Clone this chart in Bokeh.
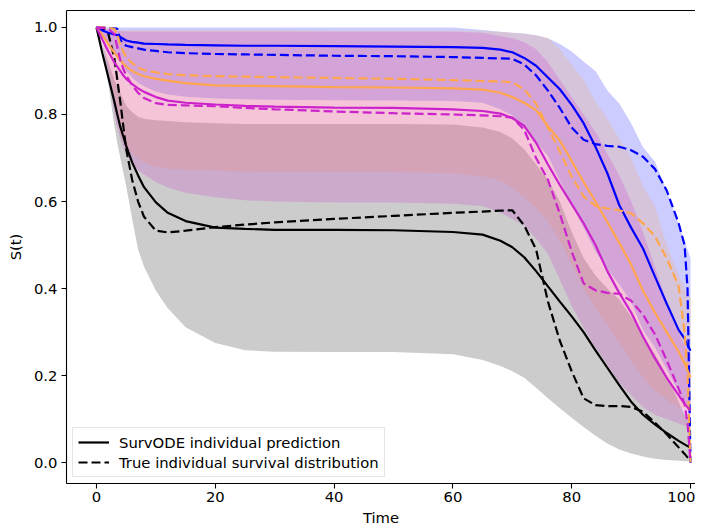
from bokeh.plotting import figure
from bokeh.models import Range1d, FixedTicker, Legend, LegendItem, LinearAxis, NumeralTickFormatter
from bokeh.embed import file_html
from bokeh.resources import INLINE

# ---------------- data ----------------
t = [0, 1, 2, 3, 3.5, 4, 4.5, 5, 6, 7, 8, 10, 12, 15, 20, 25, 30, 40, 50, 60,
     65, 68, 70, 72, 74, 76, 78, 80, 82, 84, 86, 88, 90, 92, 94, 96, 98, 99, 99.5, 100]

# black patient
pred_black = [1.0, 0.94, 0.885, 0.83, 0.80, 0.772, 0.75, 0.728, 0.69, 0.66, 0.633, 0.598, 0.574, 0.555, 0.54, 0.537, 0.535, 0.535, 0.534, 0.53,
              0.524, 0.51, 0.495, 0.472, 0.44, 0.405, 0.37, 0.336, 0.3, 0.258, 0.218, 0.178, 0.14, 0.11, 0.088, 0.068, 0.05, 0.042, 0.038, 0.035]
true_black = [1.0, 0.998, 0.985, 0.93, 0.88, 0.83, 0.775, 0.72, 0.65, 0.60, 0.565, 0.533, 0.529, 0.533, 0.541, 0.547, 0.552, 0.56, 0.567, 0.574,
              0.577, 0.579, 0.58, 0.545, 0.49, 0.37, 0.28, 0.21, 0.148, 0.132, 0.13, 0.13, 0.128, 0.117, 0.092, 0.065, 0.035, 0.02, 0.012, 0.005]
lo_black = [1.0, 0.955, 0.87, 0.775, 0.735, 0.70, 0.668, 0.635, 0.56, 0.49, 0.45, 0.395, 0.355, 0.311, 0.275, 0.258, 0.255, 0.254, 0.254, 0.249,
            0.236, 0.222, 0.21, 0.195, 0.172, 0.148, 0.125, 0.103, 0.082, 0.062, 0.044, 0.03, 0.021, 0.014, 0.009, 0.006, 0.004, 0.003, 0.003, 0.003]
hi_black = [1.0, 0.96, 0.92, 0.88, 0.865, 0.85, 0.835, 0.82, 0.805, 0.795, 0.79, 0.787, 0.785, 0.782, 0.78, 0.778, 0.778, 0.778, 0.778, 0.777,
            0.77, 0.76, 0.745, 0.72, 0.685, 0.65, 0.6, 0.53, 0.47, 0.43, 0.40, 0.375, 0.335, 0.29, 0.25, 0.2, 0.14, 0.11, 0.1, 0.1]

# blue patient
pred_blue = [1.0, 0.993, 0.988, 0.984, 0.982, 0.978, 0.974, 0.97, 0.967, 0.965, 0.963, 0.962, 0.961, 0.96, 0.959, 0.958, 0.958, 0.957, 0.956, 0.955,
             0.953, 0.949, 0.943, 0.93, 0.912, 0.885, 0.858, 0.822, 0.78, 0.726, 0.665, 0.592, 0.54, 0.492, 0.428, 0.365, 0.305, 0.285, 0.27, 0.257]
true_blue = [1.0, 1.0, 0.999, 0.998, 0.997, 0.972, 0.963, 0.958, 0.955, 0.952, 0.949, 0.946, 0.943, 0.941, 0.939, 0.938, 0.937, 0.935, 0.934, 0.932,
             0.93, 0.929, 0.928, 0.915, 0.89, 0.855, 0.815, 0.77, 0.742, 0.732, 0.728, 0.726, 0.718, 0.703, 0.675, 0.625, 0.55, 0.5, 0.4, 0.0]
lo_blue = [1.0, 0.985, 0.965, 0.94, 0.93, 0.92, 0.91, 0.9, 0.885, 0.873, 0.865, 0.853, 0.846, 0.841, 0.837, 0.835, 0.834, 0.833, 0.832, 0.831,
           0.827, 0.812, 0.798, 0.768, 0.737, 0.705, 0.648, 0.592, 0.54, 0.485, 0.445, 0.41, 0.37, 0.305, 0.265, 0.215, 0.162, 0.14, 0.13, 0.12]
hi_blue = [1.0, 1.0, 1.0, 1.0, 1.0, 1.0, 1.0, 1.0, 1.0, 1.0, 1.0, 1.0, 1.0, 1.0, 1.0, 1.0, 1.0, 1.0, 1.0, 1.0,
           0.994, 0.99, 0.988, 0.986, 0.982, 0.975, 0.962, 0.945, 0.922, 0.9, 0.855, 0.825, 0.78, 0.725, 0.692, 0.625, 0.548, 0.51, 0.49, 0.47]

# orange patient
pred_orange = [1.0, 0.983, 0.962, 0.942, 0.933, 0.925, 0.917, 0.91, 0.9, 0.893, 0.888, 0.882, 0.878, 0.872, 0.867, 0.866, 0.865, 0.863, 0.862, 0.86,
               0.857, 0.85, 0.84, 0.827, 0.81, 0.773, 0.74, 0.693, 0.645, 0.6, 0.553, 0.505, 0.455, 0.395, 0.345, 0.3, 0.255, 0.228, 0.212, 0.196]
true_orange = [1.0, 1.0, 0.999, 0.997, 0.985, 0.96, 0.945, 0.932, 0.918, 0.908, 0.902, 0.897, 0.893, 0.89, 0.888, 0.887, 0.886, 0.884, 0.882, 0.879,
               0.877, 0.876, 0.874, 0.858, 0.825, 0.77, 0.715, 0.657, 0.612, 0.59, 0.584, 0.58, 0.573, 0.55, 0.52, 0.47, 0.405, 0.3, 0.2, 0.0]
lo_orange = [1.0, 0.97, 0.91, 0.84, 0.80, 0.755, 0.74, 0.728, 0.71, 0.698, 0.69, 0.68, 0.676, 0.673, 0.671, 0.669, 0.668, 0.668, 0.668, 0.665,
             0.658, 0.647, 0.633, 0.61, 0.585, 0.555, 0.51, 0.455, 0.40, 0.355, 0.315, 0.275, 0.235, 0.195, 0.165, 0.145, 0.128, 0.123, 0.12, 0.12]
hi_orange = [1.0, 0.998, 0.996, 0.995, 0.995, 0.994, 0.994, 0.994, 0.994, 0.994, 0.994, 0.994, 0.994, 0.994, 0.994, 0.994, 0.994, 0.993, 0.993, 0.993,
             0.992, 0.99, 0.988, 0.985, 0.982, 0.976, 0.95, 0.915, 0.88, 0.83, 0.79, 0.745, 0.70, 0.635, 0.59, 0.50, 0.43, 0.40, 0.39, 0.38]

# magenta patient
pred_magenta = [1.0, 0.972, 0.945, 0.92, 0.91, 0.9, 0.89, 0.882, 0.87, 0.86, 0.852, 0.84, 0.832, 0.827, 0.823, 0.82, 0.818, 0.816, 0.815, 0.812,
                0.808, 0.802, 0.792, 0.774, 0.735, 0.685, 0.638, 0.594, 0.55, 0.5, 0.44, 0.39, 0.345, 0.29, 0.24, 0.195, 0.155, 0.135, 0.127, 0.12]
true_magenta = [1.0, 0.999, 0.997, 0.985, 0.955, 0.925, 0.905, 0.89, 0.867, 0.85, 0.838, 0.826, 0.822, 0.821, 0.819, 0.815, 0.812, 0.807, 0.803, 0.8,
                0.798, 0.796, 0.793, 0.765, 0.7, 0.65, 0.572, 0.485, 0.412, 0.396, 0.39, 0.388, 0.372, 0.34, 0.295, 0.235, 0.17, 0.135, 0.09, 0.0]
lo_magenta = [1.0, 0.965, 0.89, 0.80, 0.77, 0.745, 0.725, 0.71, 0.685, 0.672, 0.662, 0.645, 0.632, 0.62, 0.61, 0.603, 0.60, 0.598, 0.598, 0.595,
              0.59, 0.575, 0.56, 0.545, 0.515, 0.48, 0.42, 0.36, 0.31, 0.265, 0.225, 0.183, 0.155, 0.128, 0.11, 0.1, 0.09, 0.085, 0.083, 0.08]
hi_magenta = [1.0, 0.998, 0.995, 0.993, 0.992, 0.992, 0.991, 0.991, 0.99, 0.99, 0.99, 0.99, 0.99, 0.99, 0.99, 0.99, 0.99, 0.99, 0.99, 0.99,
              0.988, 0.98, 0.975, 0.966, 0.95, 0.92, 0.88, 0.84, 0.8, 0.76, 0.71, 0.66, 0.6, 0.53, 0.45, 0.37, 0.3, 0.27, 0.26, 0.25]

x_ticks = [0, 20, 40, 60, 80, 100]
y_ticks = [0.0, 0.2, 0.4, 0.6, 0.8, 1.0]
legend_labels = ["SurvODE individual prediction", "True individual survival distribution"]

series = [
    ("black", pred_black, true_black, lo_black, hi_black),
    ("#0000ff", pred_blue, true_blue, lo_blue, hi_blue),
    ("#ffa64d", pred_orange, true_orange, lo_orange, hi_orange),
    ("#cc22cc", pred_magenta, true_magenta, lo_magenta, hi_magenta),
]

FONT = "DejaVu Sans"
FS = "14.8px"

p = figure(width=695, height=528, output_backend="svg", toolbar_location=None,
           x_range=Range1d(-5.05, 100.84), y_range=Range1d(-0.048, 1.039),
           min_border_left=66, min_border_right=0, min_border_top=10, min_border_bottom=38,
           x_axis_label="Time", y_axis_label="S(t)")
p.grid.visible = False
p.outline_line_color = None
p.background_fill_color = "white"
p.border_fill_color = "white"

# bands first (alpha-composited like the original)
for color, pred, true, lo, hi in series:
    p.varea(x=t, y1=lo, y2=hi, fill_color=color, fill_alpha=0.2)

pred_renderers = []
true_renderers = []
for color, pred, true, lo, hi in series:
    rp = p.line(t, pred, line_color=color, line_width=2.2)
    rt = p.line(t, true, line_color=color, line_width=2.2, line_dash="9 4")
    pred_renderers.append(rp)
    true_renderers.append(rt)

for ax in p.axis:
    ax.axis_line_color = "black"
    ax.axis_line_width = 1.1
    ax.major_tick_out = 5
    ax.major_tick_in = 0
    ax.minor_tick_out = 0
    ax.minor_tick_in = 0
    ax.major_tick_line_color = "black"
    ax.major_tick_line_width = 1.1
    ax.major_label_text_font = FONT
    ax.major_label_text_font_size = FS
    ax.major_label_text_color = "black"
    ax.axis_label_text_font = FONT
    ax.axis_label_text_font_size = FS
    ax.axis_label_text_font_style = "normal"
    ax.axis_label_text_color = "black"

p.xaxis.ticker = FixedTicker(ticks=x_ticks)
p.yaxis.ticker = FixedTicker(ticks=y_ticks)
p.yaxis.formatter = NumeralTickFormatter(format="0.0")
p.xaxis.major_label_standoff = 3
p.xaxis.axis_label_standoff = 4
p.yaxis.major_label_standoff = 4
p.yaxis.axis_label_standoff = 7

# top spine
top = LinearAxis(ticker=FixedTicker(ticks=[]), axis_line_color="black", axis_line_width=1.1,
                 major_tick_out=0, major_tick_in=0, minor_tick_out=0, minor_tick_in=0,
                 major_label_text_font_size="0px")
p.add_layout(top, "above")

legend = Legend(items=[LegendItem(label=legend_labels[0], renderers=[pred_renderers[0]]),
                       LegendItem(label=legend_labels[1], renderers=[true_renderers[0]])],
                location="bottom_left", margin=6, padding=5, spacing=2,
                label_height=18, glyph_height=18, glyph_width=31, label_standoff=10,
                label_text_font=FONT, label_text_font_size=FS, label_text_color="black",
                border_line_color="#cccccc", border_line_width=1,
                background_fill_color="white", background_fill_alpha=0.8)
p.add_layout(legend)

open("out.html", "w").write(file_html(p, INLINE))
